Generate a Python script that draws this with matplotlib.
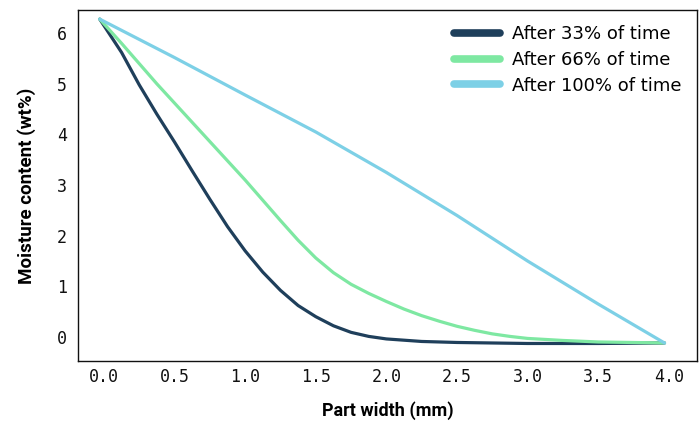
import matplotlib
matplotlib.use("Agg")
import matplotlib.pyplot as plt
from matplotlib.lines import Line2D

# Data
x_33 = [-0.03, 0.125, 0.25, 0.375, 0.5, 0.625, 0.75, 0.875, 1.0, 1.125, 1.25, 1.375,
        1.5, 1.625, 1.75, 1.875, 2.0, 2.25, 2.5, 3.0, 3.5, 3.97]
y_33 = [6.28, 5.62, 4.98, 4.4, 3.85, 3.28, 2.72, 2.18, 1.7, 1.28, 0.92, 0.62,
        0.4, 0.22, 0.09, 0.01, -0.04, -0.09, -0.11, -0.13, -0.13, -0.12]

x_66 = [-0.03, 0.125, 0.25, 0.375, 0.5, 0.625, 0.75, 0.875, 1.0, 1.125, 1.25, 1.375,
        1.5, 1.625, 1.75, 1.875, 2.0, 2.125, 2.25, 2.375, 2.5, 2.625, 2.75, 2.875,
        3.0, 3.25, 3.5, 3.97]
y_66 = [6.28, 5.8, 5.4, 5.0, 4.62, 4.24, 3.86, 3.48, 3.1, 2.7, 2.3, 1.91,
        1.56, 1.27, 1.04, 0.86, 0.7, 0.55, 0.42, 0.31, 0.21, 0.13, 0.06, 0.01,
        -0.03, -0.07, -0.1, -0.12]

x_100 = [-0.03, 0.5, 1.0, 1.5, 2.0, 2.5, 3.0, 3.5, 3.97]
y_100 = [6.28, 5.52, 4.78, 4.05, 3.25, 2.4, 1.5, 0.65, -0.12]

labels = ["After 33% of time", "After 66% of time", "After 100% of time"]
colors = ["#1f3f5b", "#7ee8a2", "#7dd0e6"]

x_ticks = [0.0, 0.5, 1.0, 1.5, 2.0, 2.5, 3.0, 3.5, 4.0]
y_ticks = [0, 1, 2, 3, 4, 5, 6]

fig = plt.figure(figsize=(7, 4.26), dpi=100)
ax = fig.add_axes([0.1114, 0.1526, 0.8843, 0.8239])

for xs, ys, c in zip([x_33, x_66, x_100], [y_33, y_66, y_100], colors):
    ax.plot(xs, ys, color=c, lw=2.3, solid_capstyle="round", solid_joinstyle="round")

ax.set_xlim(-0.184, 4.20)
ax.set_ylim(-0.476, 6.46)
ax.set_xticks(x_ticks)
ax.set_xticklabels([f"{v:.1f}" for v in x_ticks])
ax.set_yticks(y_ticks)
ax.set_yticklabels([str(v) for v in y_ticks])
ax.tick_params(length=0, labelsize=12, colors="#111111")
ax.tick_params(axis="x", pad=5)
ax.tick_params(axis="y", pad=8)
for lab in ax.get_xticklabels() + ax.get_yticklabels():
    lab.set_family("DejaVu Sans Mono")

for sp in ax.spines.values():
    sp.set_color("#111111")
    sp.set_linewidth(1.0)

ax.set_xlabel("Part width (mm)", fontsize=13, fontweight="semibold", family="Roboto", labelpad=11)
ax.set_ylabel("Moisture content (wt%)", fontsize=13.5, fontweight="semibold", family="Roboto", labelpad=15)

handles = [Line2D([0], [0], color=c, lw=5.5, solid_capstyle="round") for c in colors]
leg = ax.legend(handles, labels, loc="upper right", frameon=False,
                handlelength=2.5, handletextpad=0.7, labelspacing=0.42,
                borderaxespad=0.45, prop={"family": "DejaVu Sans", "size": 13})

fig.savefig("out.png", dpi=100)
